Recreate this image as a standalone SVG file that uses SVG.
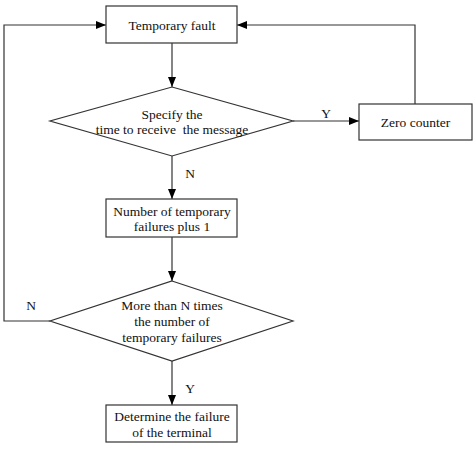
<svg xmlns="http://www.w3.org/2000/svg" width="474" height="450" viewBox="0 0 474 450">
<defs>
<style>
.box{fill:#fff;stroke:#333;stroke-width:1.2}
.ln{fill:none;stroke:#333;stroke-width:1.2}
.t{font-family:'Liberation Serif',serif;font-size:13.5px;fill:#111;text-anchor:middle}
</style>
<marker id="ah" viewBox="0 0 10 8" refX="10" refY="4" markerWidth="10" markerHeight="8" markerUnits="userSpaceOnUse" orient="auto">
<path d="M0,0 L10,4 L0,8 Z" fill="#000"/>
</marker>
</defs>
<rect width="474" height="450" fill="#fff"/>
<g id="connectors">
<path class="ln" d="M172,43 V87" marker-end="url(#ah)"/>
<path class="ln" d="M293,121 H359" marker-end="url(#ah)"/>
<path class="ln" d="M415,104 V25 H237" marker-end="url(#ah)"/>
<path class="ln" d="M172,156 V199" marker-end="url(#ah)"/>
<path class="ln" d="M172,237 V281" marker-end="url(#ah)"/>
<path class="ln" d="M50,321 H4 V25 H106" marker-end="url(#ah)"/>
<path class="ln" d="M172,361 V405" marker-end="url(#ah)"/>
<text class="t" x="326" y="118">Y</text>
<text class="t" x="190" y="178">N</text>
<text class="t" x="31" y="310">N</text>
<text class="t" x="190" y="393">Y</text>
</g>
<g id="temporary-fault">
<rect class="box" x="106" y="6" width="131" height="37"/>
<text class="t" x="172" y="29.5">Temporary fault</text>
</g>
<g id="specify-time">
<polygon class="box" points="172,87 293,121 172,156 50,121"/>
<text class="t" x="172" y="118.5">Specify the</text>
<text class="t" x="172" y="134" xml:space="preserve">time to receive  the message</text>
</g>
<g id="zero-counter">
<rect class="box" x="359" y="104" width="113" height="36"/>
<text class="t" x="415.5" y="126.5">Zero counter</text>
</g>
<g id="plus-one">
<rect class="box" x="106" y="199" width="131" height="38"/>
<text class="t" x="172" y="216">Number of temporary</text>
<text class="t" x="172" y="231">failures plus 1</text>
</g>
<g id="more-than-n">
<polygon class="box" points="172,281 293,321 172,361 50,321"/>
<text class="t" x="172" y="310">More than N times</text>
<text class="t" x="172" y="326">the number of</text>
<text class="t" x="172" y="342">temporary failures</text>
</g>
<g id="determine-failure">
<rect class="box" x="106" y="405" width="131" height="37"/>
<text class="t" x="172" y="421">Determine the failure</text>
<text class="t" x="172" y="437">of the terminal</text>
</g>
</svg>
